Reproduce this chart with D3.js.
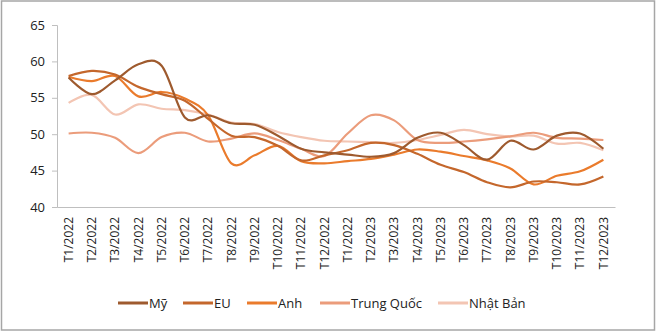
<!DOCTYPE html>
<html>
<head>
<meta charset="utf-8">
<script src="https://cdn.jsdelivr.net/npm/d3@7"></script>
<style>
  html, body { margin: 0; padding: 0; background: #fff; }
  svg { display: block; }
  text { font-family: "Open Sans", "Noto Sans", sans-serif; fill: #222; }
</style>
</head>
<body>
<svg id="chart" width="657" height="333"></svg>
<script>
const categories = ["T1/2022","T2/2022","T3/2022","T4/2022","T5/2022","T6/2022","T7/2022","T8/2022","T9/2022","T10/2022","T11/2022","T12/2022",
  "T1/2022","T2/2023","T3/2023","T4/2023","T5/2023","T6/2023","T7/2023","T8/2023","T9/2023","T10/2023","T11/2023","T12/2023"];

const seriesNames = ["Mỹ", "EU", "Anh", "Trung Quốc", "Nhật Bản"];
const seriesColors = ["#9e5a2e", "#c4672c", "#ea7b2c", "#eb9c7b", "#f3c5b3"];

const valuesMy   = [57.8, 55.5, 57.4, 59.6, 59.4, 52.3, 52.6, 51.5, 51.3, 49.8, 48.0, 47.5, 47.2, 46.9, 47.4, 49.5, 50.2, 48.5, 46.5, 49.1, 47.9, 49.8, 50.1, 48.0];
const valuesEU   = [58.0, 58.7, 58.2, 56.5, 55.5, 54.6, 52.1, 49.8, 49.6, 48.4, 46.4, 47.1, 47.8, 48.8, 48.5, 47.3, 45.8, 44.8, 43.4, 42.7, 43.5, 43.4, 43.1, 44.2];
const valuesAnh  = [57.9, 57.3, 58.0, 55.2, 55.8, 54.9, 52.6, 46.0, 47.1, 48.4, 46.3, 46.0, 46.3, 46.6, 47.2, 47.9, 47.6, 47.0, 46.4, 45.3, 43.1, 44.3, 44.9, 46.5];
const valuesTQ   = [50.1, 50.2, 49.5, 47.4, 49.6, 50.2, 49.0, 49.4, 50.1, 49.2, 48.0, 47.0, 50.1, 52.6, 51.9, 49.2, 48.8, 49.0, 49.3, 49.7, 50.2, 49.5, 49.4, 49.2];
const valuesNhat = [54.3, 55.4, 52.7, 54.1, 53.5, 53.3, 52.7, 51.6, 51.4, 50.3, 49.6, 49.1, 49.0, 48.9, 48.8, 49.2, 49.9, 50.6, 50.0, 49.7, 49.8, 48.7, 48.8, 47.8];

const yTicks = [40, 45, 50, 55, 60, 65];

const allValues = [valuesMy, valuesEU, valuesAnh, valuesTQ, valuesNhat];

const svg = d3.select("#chart");
const W = 657, H = 333;

// outer border
svg.append("rect")
  .attr("x", 1.5).attr("y", 1).attr("width", 653).attr("height", 329)
  .attr("fill", "#fff").attr("stroke", "#a6a6a6").attr("stroke-width", 1.5);

const plot = { left: 57, right: 615, top: 25, bottom: 207 };

const x = d3.scaleBand().domain(d3.range(categories.length))
  .range([plot.left, plot.right]).paddingInner(0).paddingOuter(0);
const y = d3.scaleLinear().domain([40, 65]).range([plot.bottom, plot.top]);

// Y axis
const yAxis = d3.axisLeft(y).tickValues(yTicks).tickSize(5).tickPadding(7).tickFormat(d3.format("d"));
const gy = svg.append("g").attr("transform", `translate(${plot.left},0)`).call(yAxis);
gy.select(".domain").attr("stroke", "#bfbfbf");
gy.selectAll(".tick line").attr("stroke", "#bfbfbf");
gy.selectAll(".tick text").attr("font-size", 13).attr("fill", "#222")
  .attr("font-family", "'Open Sans', sans-serif");

// X axis
const xAxis = d3.axisBottom(x).tickFormat(i => categories[i]).tickSize(0).tickPadding(0);
const gx = svg.append("g").attr("transform", `translate(0,${plot.bottom})`).call(xAxis);
gx.select(".domain").attr("stroke", "#bfbfbf");
gx.selectAll(".tick text")
  .attr("font-size", 12).attr("fill", "#222")
  .attr("font-family", "'Open Sans', sans-serif")
  .attr("transform", "rotate(-90)")
  .attr("text-anchor", "end")
  .attr("x", -10).attr("y", 0).attr("dy", "0.35em");

// lines
const cx = i => x(i) + x.bandwidth() / 2;
const line = d3.line().x((d, i) => cx(i)).y(d => y(d)).curve(d3.curveCardinal.tension(0));

// draw in reverse order so Mỹ is on top
for (let s = allValues.length - 1; s >= 0; s--) {
  svg.append("path")
    .datum(allValues[s])
    .attr("fill", "none")
    .attr("stroke", seriesColors[s])
    .attr("stroke-width", 2.2)
    .attr("stroke-linejoin", "round")
    .attr("d", line);
}

// legend
const legendX = [118, 183, 247, 320, 438];
const legendY = 303;
const lg = svg.append("g");
seriesNames.forEach((name, i) => {
  lg.append("line")
    .attr("x1", legendX[i]).attr("x2", legendX[i] + 30)
    .attr("y1", legendY).attr("y2", legendY)
    .attr("stroke", seriesColors[i]).attr("stroke-width", 3);
  lg.append("text")
    .attr("x", legendX[i] + 31).attr("y", legendY).attr("dy", "0.35em")
    .attr("font-size", 13).text(name);
});
</script>
</body>
</html>
